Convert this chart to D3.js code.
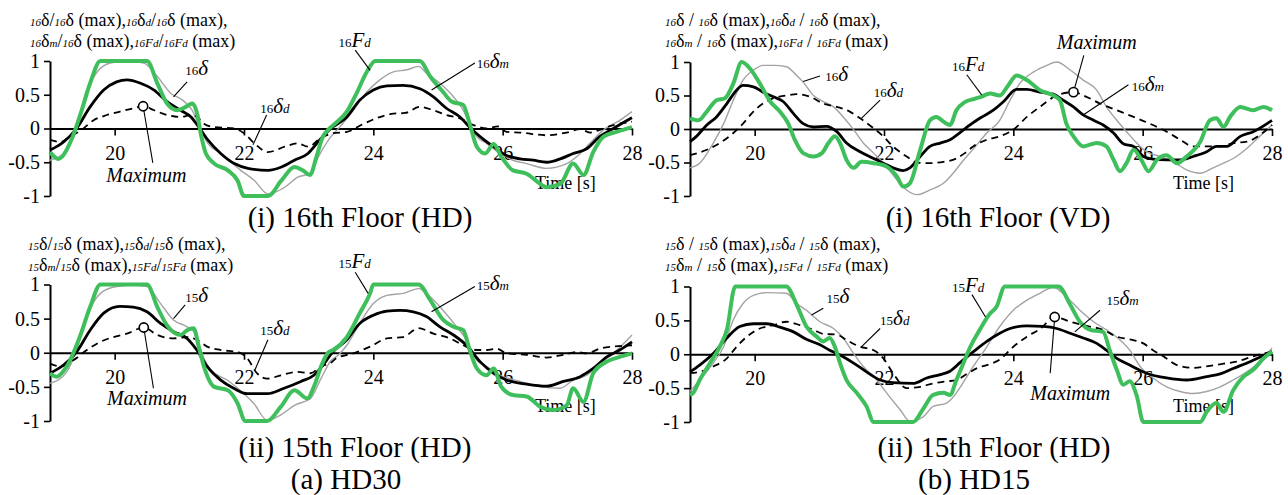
<!DOCTYPE html>
<html><head><meta charset="utf-8">
<script src="https://cdn.jsdelivr.net/npm/d3@7"></script>
<style>
body{margin:0;background:#fff}
svg{display:block}
text{font-family:"Liberation Serif","Times New Roman",serif;fill:#000}
</style>
</head><body>
<svg id="c" width="1288" height="495"></svg>
<script>
// ---------- ticks ----------
const timeDomain = [19, 28];
const timeTicks = [20, 22, 24, 26, 28];
const valueTicks = [-1, -0.5, 0, 0.5, 1];

// ---------- (a) HD30, 16th floor (HD) : [time s, normalized value] ----------
const TL_Fd = [[19,-0.35],[19.13,-0.45],[19.33,-0.17],[19.49,0.27],[19.62,0.67],[19.78,1],[20.5,1],[20.66,0.67],[20.81,0.37],[20.97,0.27],[21.1,0.32],[21.2,0.37],[21.28,0.2],[21.33,-0.07],[21.41,-0.37],[21.54,-0.52],[21.75,-0.62],[21.9,-0.77],[22.0,-1],[22.37,-1],[22.58,-0.77],[22.78,-0.57],[22.91,-0.62],[23.02,-0.69],[23.12,-0.42],[23.22,-0.12],[23.3,-0.02],[23.38,0.05],[23.59,0.25],[23.74,0.52],[23.9,0.84],[24.03,1],[24.72,1],[24.88,0.77],[25.08,0.54],[25.21,0.4],[25.39,0.35],[25.49,0.07],[25.6,-0.27],[25.73,-0.37],[25.86,-0.23],[25.98,-0.42],[26.16,-0.62],[26.37,-0.67],[26.58,-0.82],[26.68,-0.87],[26.89,-0.82],[27.09,-0.52],[27.25,-0.69],[27.4,-0.35],[27.56,-0.12],[27.76,-0.05],[28,0.02]];
const TL_d = [[19,-0.47],[19.26,-0.32],[19.41,0.02],[19.57,0.57],[19.73,0.84],[19.93,0.97],[20.19,1],[20.45,0.97],[20.66,0.77],[20.87,0.52],[21.05,0.42],[21.2,0.27],[21.33,-0.02],[21.44,-0.22],[21.64,-0.37],[21.95,-0.62],[22.16,-0.77],[22.37,-0.97],[22.63,-0.87],[22.83,-0.72],[23.02,-0.67],[23.15,-0.42],[23.33,-0.14],[23.48,0.02],[23.69,0.27],[23.9,0.54],[24.1,0.72],[24.31,0.84],[24.52,0.87],[24.7,0.92],[24.82,0.82],[25.03,0.67],[25.24,0.47],[25.39,0.27],[25.49,0.07],[25.6,-0.12],[25.75,-0.22],[25.96,-0.37],[26.16,-0.47],[26.37,-0.52],[26.68,-0.59],[26.99,-0.52],[27.2,-0.37],[27.35,-0.22],[27.56,-0.02],[27.81,0.12],[28,0.25]];
const TL_m = [[19,-0.32],[19.21,-0.2],[19.41,0],[19.62,0.32],[19.83,0.57],[20.03,0.69],[20.19,0.72],[20.4,0.67],[20.61,0.57],[20.81,0.4],[21.02,0.27],[21.18,0.17],[21.28,0.05],[21.44,-0.17],[21.64,-0.37],[21.85,-0.52],[22.06,-0.59],[22.37,-0.62],[22.58,-0.57],[22.78,-0.47],[22.99,-0.37],[23.17,-0.17],[23.33,-0.01],[23.59,0.17],[23.79,0.42],[24,0.57],[24.21,0.63],[24.46,0.64],[24.72,0.59],[24.93,0.47],[25.13,0.3],[25.34,0.17],[25.49,0.02],[25.65,-0.12],[25.86,-0.27],[26.06,-0.4],[26.27,-0.45],[26.47,-0.47],[26.68,-0.5],[26.89,-0.45],[27.09,-0.37],[27.3,-0.3],[27.5,-0.12],[27.71,0],[28,0.16]];
const TL_dd = [[19,-0.17],[19.16,-0.2],[19.31,-0.12],[19.49,-0.02],[19.67,0.12],[19.88,0.2],[20.08,0.25],[20.29,0.3],[20.44,0.33],[20.61,0.27],[20.81,0.2],[21.02,0.17],[21.18,0.2],[21.28,0.17],[21.38,0.07],[21.54,0.02],[21.85,0],[22,-0.07],[22.16,-0.22],[22.37,-0.35],[22.63,-0.27],[22.83,-0.22],[22.99,-0.27],[23.2,-0.13],[23.38,-0.07],[23.59,-0.05],[23.85,0.07],[24.1,0.17],[24.31,0.22],[24.49,0.23],[24.72,0.32],[24.93,0.27],[25.13,0.2],[25.34,0.15],[25.55,0.05],[25.75,0],[25.93,0.03],[26.06,-0.05],[26.27,-0.06],[26.68,-0.1],[26.99,-0.06],[27.2,-0.01],[27.35,-0.06],[27.5,-0.02],[27.71,0.05],[28,0.1]];
const TL_max = [20.44, 0.33];

// ---------- (b) HD15, 16th floor (VD) ----------
const TR_Fd = [[19,0.16],[19.13,0.13],[19.26,0.26],[19.41,0.43],[19.54,0.46],[19.67,0.68],[19.8,1],[19.93,0.9],[20.08,0.68],[20.24,0.41],[20.39,0.26],[20.52,0.08],[20.62,-0.16],[20.75,-0.36],[20.91,-0.41],[21.04,-0.36],[21.14,-0.21],[21.24,-0.11],[21.32,-0.21],[21.42,-0.46],[21.53,-0.58],[21.65,-0.49],[21.84,-0.51],[22.04,-0.56],[22.2,-0.71],[22.3,-0.86],[22.4,-0.81],[22.56,-0.31],[22.71,0.13],[22.81,0.18],[22.92,0.11],[23.02,0.06],[23.12,0.28],[23.25,0.4],[23.4,0.45],[23.5,0.48],[23.64,0.53],[23.79,0.5],[23.92,0.65],[24.05,0.8],[24.21,0.73],[24.41,0.58],[24.62,0.5],[24.72,0.43],[24.82,0.08],[24.93,-0.11],[25.08,-0.26],[25.29,-0.21],[25.44,-0.26],[25.55,-0.46],[25.65,-0.63],[25.75,-0.51],[25.86,-0.31],[25.98,-0.46],[26.09,-0.63],[26.22,-0.46],[26.37,-0.39],[26.53,-0.51],[26.68,-0.41],[26.89,-0.19],[27.04,0.13],[27.14,0.16],[27.25,0.03],[27.35,0.18],[27.51,0.33],[27.71,0.28],[27.87,0.33],[28,0.28]];
const TR_d = [[19,-0.58],[19.15,-0.51],[19.36,-0.21],[19.52,0.08],[19.67,0.43],[19.82,0.73],[19.98,0.88],[20.13,0.95],[20.29,0.95],[20.49,0.93],[20.65,0.8],[20.75,0.7],[20.91,0.5],[21.06,0.41],[21.22,0.33],[21.37,0.18],[21.53,-0.01],[21.68,-0.21],[21.84,-0.36],[22.04,-0.56],[22.2,-0.76],[22.35,-0.91],[22.51,-0.98],[22.71,-0.91],[22.92,-0.81],[23.07,-0.66],[23.2,-0.5],[23.38,-0.3],[23.59,-0.06],[23.79,0.13],[23.95,0.43],[24.1,0.68],[24.31,0.85],[24.52,0.95],[24.67,1],[24.88,0.88],[25.08,0.73],[25.29,0.58],[25.44,0.33],[25.6,0.13],[25.75,-0.04],[25.91,-0.21],[26.06,-0.34],[26.27,-0.41],[26.47,-0.49],[26.68,-0.61],[26.89,-0.66],[27.09,-0.58],[27.25,-0.51],[27.4,-0.44],[27.61,-0.29],[27.81,-0.11],[28,0.06]];
const TR_m = [[19,-0.19],[19.1,-0.11],[19.26,0.06],[19.41,0.18],[19.57,0.38],[19.72,0.58],[19.82,0.65],[19.98,0.63],[20.13,0.55],[20.29,0.48],[20.44,0.41],[20.6,0.23],[20.75,0.08],[20.91,0.03],[21.11,0.04],[21.27,-0.04],[21.42,-0.21],[21.63,-0.34],[21.84,-0.44],[21.99,-0.51],[22.14,-0.58],[22.3,-0.62],[22.4,-0.58],[22.56,-0.41],[22.71,-0.26],[22.87,-0.21],[23.02,-0.16],[23.18,-0.05],[23.33,0.06],[23.48,0.16],[23.69,0.28],[23.85,0.41],[24.05,0.59],[24.21,0.59],[24.41,0.55],[24.62,0.52],[24.77,0.43],[24.93,0.33],[25.08,0.21],[25.24,0.13],[25.39,0.06],[25.55,-0.06],[25.7,-0.22],[25.86,-0.26],[26.01,-0.41],[26.16,-0.45],[26.37,-0.46],[26.58,-0.46],[26.78,-0.41],[26.99,-0.34],[27.14,-0.26],[27.3,-0.26],[27.51,-0.11],[27.71,-0.04],[28,0.13]];
const TR_dd = [[19,-0.39],[19.26,-0.31],[19.46,-0.21],[19.67,-0.06],[19.82,0.08],[19.98,0.26],[20.13,0.38],[20.29,0.46],[20.49,0.5],[20.65,0.52],[20.86,0.48],[21.06,0.38],[21.27,0.33],[21.47,0.26],[21.63,0.16],[21.84,0.01],[21.99,-0.11],[22.14,-0.26],[22.35,-0.41],[22.51,-0.5],[22.71,-0.51],[22.92,-0.49],[23.12,-0.44],[23.25,-0.36],[23.38,-0.26],[23.59,-0.16],[23.79,-0.11],[24,-0.01],[24.21,0.18],[24.41,0.33],[24.67,0.5],[24.93,0.55],[25.13,0.48],[25.34,0.38],[25.6,0.28],[25.86,0.18],[26.11,0.08],[26.37,-0.04],[26.58,-0.16],[26.78,-0.26],[26.99,-0.26],[27.2,-0.26],[27.4,-0.21],[27.61,-0.19],[27.81,-0.09],[28,0.06]];
const TR_max = [24.93, 0.55];

// ---------- (a) HD30, 15th floor (HD) ----------
const BL_Fd = [[19,-0.3],[19.1,-0.35],[19.26,-0.2],[19.46,0.23],[19.62,0.67],[19.78,1],[20.5,1],[20.66,0.67],[20.81,0.4],[21.02,0.26],[21.12,0.33],[21.22,0.36],[21.3,0.09],[21.38,-0.2],[21.54,-0.5],[21.75,-0.55],[21.9,-0.74],[22.02,-1],[22.36,-1],[22.57,-0.79],[22.78,-0.55],[22.98,-0.67],[23.08,-0.5],[23.2,-0.18],[23.3,0],[23.38,0.04],[23.59,0.23],[23.79,0.58],[23.95,0.87],[24.0,1],[24.7,1],[24.88,0.77],[25.08,0.48],[25.24,0.38],[25.39,0.33],[25.49,0.04],[25.6,-0.23],[25.75,-0.33],[25.86,-0.23],[25.98,-0.5],[26.16,-0.62],[26.37,-0.64],[26.58,-0.79],[26.78,-0.84],[26.99,-0.77],[27.09,-0.52],[27.25,-0.72],[27.4,-0.3],[27.61,-0.13],[27.81,-0.06],[28,-0.01]];
const BL_d = [[19,-0.45],[19.26,-0.28],[19.41,0.04],[19.57,0.53],[19.78,0.87],[20.03,0.97],[20.29,0.99],[20.5,0.97],[20.71,0.72],[20.91,0.48],[21.12,0.38],[21.25,0.28],[21.33,0.04],[21.48,-0.25],[21.74,-0.4],[22,-0.6],[22.15,-0.74],[22.36,-0.99],[22.57,-0.91],[22.78,-0.77],[23.03,-0.67],[23.19,-0.38],[23.34,-0.12],[23.45,-0.04],[23.59,0.11],[23.79,0.43],[24,0.72],[24.21,0.84],[24.46,0.87],[24.7,0.94],[24.88,0.82],[25.08,0.62],[25.29,0.38],[25.44,0.19],[25.6,-0.11],[25.75,-0.2],[25.96,-0.33],[26.27,-0.42],[26.58,-0.5],[26.89,-0.52],[27.09,-0.4],[27.3,-0.33],[27.5,-0.16],[27.71,-0.01],[28,0.26]];
const BL_m = [[19,-0.3],[19.21,-0.18],[19.41,0.01],[19.62,0.33],[19.83,0.58],[20.08,0.68],[20.29,0.67],[20.5,0.6],[20.71,0.43],[20.91,0.31],[21.12,0.21],[21.27,0.04],[21.43,-0.2],[21.64,-0.4],[21.84,-0.52],[22.05,-0.6],[22.36,-0.6],[22.62,-0.52],[22.88,-0.42],[23.08,-0.33],[23.24,-0.16],[23.36,0],[23.59,0.19],[23.79,0.43],[24,0.55],[24.21,0.61],[24.41,0.62],[24.62,0.6],[24.82,0.53],[25.03,0.38],[25.24,0.26],[25.44,0.11],[25.65,-0.13],[25.86,-0.3],[26.06,-0.4],[26.37,-0.46],[26.68,-0.49],[26.94,-0.42],[27.2,-0.35],[27.4,-0.23],[27.61,-0.06],[27.81,0.04],[28,0.16]];
const BL_dd = [[19,-0.16],[19.16,-0.2],[19.36,-0.11],[19.57,0.04],[19.78,0.16],[19.98,0.23],[20.19,0.28],[20.45,0.37],[20.66,0.26],[20.91,0.21],[21.12,0.23],[21.27,0.19],[21.43,0.09],[21.64,0.04],[21.9,0.01],[22.05,-0.08],[22.2,-0.3],[22.36,-0.38],[22.57,-0.33],[22.83,-0.28],[23.03,-0.3],[23.19,-0.2],[23.34,-0.15],[23.43,-0.08],[23.69,-0.01],[23.95,0.09],[24.21,0.21],[24.46,0.23],[24.7,0.36],[24.93,0.28],[25.19,0.21],[25.39,0.11],[25.6,0.04],[25.75,0.04],[25.91,0.06],[26.06,-0.01],[26.37,-0.03],[26.68,-0.07],[26.94,-0.03],[27.14,0.01],[27.3,-0.01],[27.5,0.06],[27.71,0.09],[28,0.11]];
const BL_max = [20.45, 0.37];

// ---------- (b) HD15, 15th floor (HD) ----------
const BR_Fd = [[19,-0.6],[19.05,-0.57],[19.15,-0.38],[19.31,-0.13],[19.46,0.11],[19.57,0.36],[19.7,1],[20.49,1],[20.65,0.73],[20.8,0.41],[20.96,0.26],[21.06,0.19],[21.16,0.24],[21.24,0.11],[21.32,-0.13],[21.42,-0.38],[21.58,-0.57],[21.73,-0.77],[21.84,-1],[22.45,-1],[22.61,-0.8],[22.76,-0.6],[22.92,-0.57],[23.02,-0.6],[23.12,-0.38],[23.22,-0.15],[23.33,0.1],[23.48,0.36],[23.64,0.6],[23.74,0.7],[23.87,1],[24.7,1],[24.88,0.73],[25.03,0.48],[25.19,0.36],[25.39,0.33],[25.49,0.06],[25.6,-0.23],[25.7,-0.45],[25.8,-0.4],[25.91,-0.62],[26.01,-1],[26.89,-1],[26.99,-0.85],[27.14,-0.72],[27.25,-0.85],[27.4,-0.53],[27.56,-0.33],[27.71,-0.23],[27.87,-0.06],[28,0.04]];
const BR_d = [[19,-0.55],[19.15,-0.38],[19.36,-0.13],[19.52,0.11],[19.67,0.51],[19.82,0.75],[19.98,0.87],[20.19,0.91],[20.49,0.9],[20.65,0.75],[20.8,0.65],[21.01,0.48],[21.22,0.38],[21.37,0.24],[21.53,0.01],[21.68,-0.18],[21.89,-0.38],[22.04,-0.57],[22.25,-0.82],[22.4,-0.99],[22.61,-0.92],[22.76,-0.77],[22.97,-0.72],[23.12,-0.57],[23.25,-0.38],[23.38,-0.18],[23.59,0.11],[23.79,0.41],[24,0.65],[24.21,0.8],[24.41,0.9],[24.62,0.99],[24.82,0.85],[25.03,0.65],[25.24,0.48],[25.44,0.36],[25.65,0.21],[25.8,0.06],[25.96,-0.18],[26.16,-0.35],[26.37,-0.48],[26.58,-0.55],[26.78,-0.58],[26.99,-0.55],[27.2,-0.48],[27.4,-0.38],[27.61,-0.26],[27.81,-0.11],[28,0.09]];
const BR_m = [[19,-0.26],[19.15,-0.16],[19.36,0.01],[19.57,0.24],[19.77,0.41],[19.98,0.45],[20.19,0.45],[20.39,0.4],[20.6,0.33],[20.8,0.22],[21.01,0.14],[21.16,0.06],[21.32,-0.01],[21.53,-0.13],[21.73,-0.26],[21.94,-0.38],[22.14,-0.42],[22.45,-0.43],[22.66,-0.35],[22.87,-0.3],[23.02,-0.25],[23.18,-0.12],[23.36,0.02],[23.59,0.19],[23.79,0.31],[23.95,0.38],[24.21,0.42],[24.46,0.41],[24.67,0.38],[24.88,0.31],[25.08,0.24],[25.29,0.16],[25.44,0.06],[25.6,-0.06],[25.8,-0.16],[26.06,-0.28],[26.37,-0.35],[26.68,-0.38],[26.99,-0.33],[27.2,-0.29],[27.4,-0.21],[27.66,-0.11],[28,0.04]];
const BR_dd = [[19,-0.28],[19.15,-0.26],[19.36,-0.18],[19.57,-0.06],[19.72,0.11],[19.88,0.26],[20.08,0.38],[20.29,0.43],[20.49,0.48],[20.7,0.43],[20.91,0.36],[21.06,0.3],[21.27,0.29],[21.42,0.21],[21.63,0.11],[21.84,0.06],[21.99,-0.06],[22.14,-0.28],[22.35,-0.5],[22.56,-0.48],[22.76,-0.43],[22.97,-0.4],[23.12,-0.38],[23.3,-0.28],[23.45,-0.2],[23.59,-0.16],[23.79,-0.08],[24,0.11],[24.21,0.26],[24.41,0.37],[24.64,0.55],[24.88,0.48],[25.13,0.42],[25.39,0.36],[25.6,0.26],[25.8,0.22],[26.01,0.16],[26.16,0.06],[26.32,-0.03],[26.53,-0.16],[26.78,-0.2],[27.04,-0.17],[27.25,-0.14],[27.45,-0.11],[27.71,-0.03],[28,0.04]];
const BR_max = [24.64, 0.55];

// ---------- texts ----------
const panelTitles = ["(i) 16th Floor (HD)", "(i) 16th Floor (VD)", "(ii) 15th Floor (HD)", "(ii) 15th Floor (HD)"];
const floorTags = ["16", "16", "15", "15"];
const groupTitles = ["(a) HD30", "(b) HD15"];
const timeLabel = "Time [s]";

// ---------- layout (pixels) ----------
const layout = [
  {xr:[50,632],  yr:[196,61],    hx:30,  hy:26,  tx:360,  ty:227, sp:false},
  {xr:[690,1272],yr:[196,62],    hx:665, hy:26,  tx:998,  ty:227, sp:true},
  {xr:[50,632],  yr:[421,284.5], hx:28,  hy:250, tx:355,  ty:457, sp:false},
  {xr:[690,1272],yr:[422,286.5], hx:665, hy:250, tx:994,  ty:457, sp:true}
];
// annotation anchors in data coords [t, v]
const annots = [
  {d:[21.09,0.79], dL:[[20.91,0.47],[21.12,0.69]], dd:[22.25,0.23], ddL:[[22.14,-0.24],[22.35,0.2]],
   F:[23.46,1.21], FL:[[23.72,1.16],[23.95,0.86]], m:[25.6,0.89], mL:[[24.9,0.57],[25.57,0.97]],
   mx:[20.49,-0.79], mxL:[20.59,-0.51], time:[26.5,-0.89]},
  {d:[21.09,0.71], dL:[[20.75,0.71],[21.01,0.79]], dd:[21.84,0.48], ddL:[[21.65,0.16],[21.94,0.43]],
   F:[23.05,0.86], FL:[[23.28,0.81],[23.51,0.51]], m:[25.83,0.56], mL:[[25.08,0.21],[25.78,0.66]],
   mx:[25.29,1.2], mxL:[25.09,1.1], time:[26.47,-0.89]},
  {d:[21.09,0.75], dL:[[20.91,0.5],[21.09,0.7]], dd:[22.25,0.26], ddL:[[22.17,-0.25],[22.37,0.19]],
   F:[23.46,1.24], FL:[[23.72,1.18],[23.92,0.87]], m:[25.6,0.92], mL:[[24.9,0.6],[25.57,0.97]],
   mx:[20.5,-0.76], mxL:[20.6,-0.52], time:[26.5,-0.87]},
  {d:[21.11,0.75], dL:[[20.88,0.58],[21.06,0.68]], dd:[21.94,0.43], ddL:[[21.65,0.11],[21.94,0.38]],
   F:[23.05,0.92], FL:[[23.36,0.88],[23.57,0.55]], m:[25.44,0.73], mL:[[24.95,0.33],[25.34,0.65]],
   mx:[24.88,-0.67], mxL:[24.57,-0.28], time:[26.47,-0.85]}
];

const series = [
  {Fd:TL_Fd, d:TL_d, m:TL_m, dd:TL_dd, max:TL_max},
  {Fd:TR_Fd, d:TR_d, m:TR_m, dd:TR_dd, max:TR_max},
  {Fd:BL_Fd, d:BL_d, m:BL_m, dd:BL_dd, max:BL_max},
  {Fd:BR_Fd, d:BR_d, m:BR_m, dd:BR_dd, max:BR_max}
];

const GREEN = "#3fbf5c";
const svg = d3.select("#c");

function rich(g, x, y, parts, anchor) {
  const t = g.append("text").attr("x", x).attr("y", y).attr("text-anchor", anchor || "start");
  parts.forEach(p => t.append("tspan").attr("font-size", p[1])
    .attr("font-style", p[2] ? "italic" : "normal").text(p[0]));
  return t;
}

function drawPanel(i) {
  const L = layout[i], S = series[i], A = annots[i], f = floorTags[i];
  const x = d3.scaleLinear().domain(timeDomain).range(L.xr);
  const y = d3.scaleLinear().domain([-1, 1]).range(L.yr);
  const g = svg.append("g");
  const P = (p) => [x(p[0]), y(p[1])];

  // header (y-axis label), two lines
  const sl = L.sp ? " / " : "/";
  rich(g, L.hx, L.hy, [[f,11,1],["δ",18],[sl,18],[f,11,1],["δ (max),",18],[f,11,1],["δ",18],["d",11,1],[sl,18],[f,11,1],["δ (max),",18]]);
  rich(g, L.hx, L.hy + 21, [[f,11,1],["δ",18],["m",11,1],[sl,18],[f,11,1],["δ (max),",18],[f,11,1],["F",13,1],["d",11,1],[sl,18],[f,11,1],["F",13,1],["d",11,1],[" (max)",18]]);

  // axes
  const ya = d3.axisLeft(y).tickValues(valueTicks).tickSize(6).tickSizeOuter(0).tickPadding(4).tickFormat(d => String(d));
  const yg = g.append("g").attr("transform", `translate(${L.xr[0]},0)`).call(ya);
  const xa = d3.axisBottom(x).tickValues(timeTicks).tickSize(7).tickSizeOuter(0).tickPadding(10).tickFormat(d => String(d));
  const xg = g.append("g").attr("transform", `translate(0,${y(0)})`).call(xa);
  [yg, xg].forEach(a => {
    a.attr("font-family", null).attr("font-size", null);
    a.select(".domain").attr("stroke", "#000").attr("stroke-width", 2);
    a.selectAll(".tick line").attr("stroke", "#000").attr("stroke-width", 1.6);
    a.selectAll(".tick text").attr("font-size", 20).attr("fill", "#000");
  });

  // curve labels
  rich(g, ...P(A.d), [[f,13],["δ",21,1]]);
  rich(g, ...P(A.dd), [[f,13],["δ",21,1],["d",13,1]]);
  rich(g, ...P(A.F), [[f,13],["F",21,1],["d",13,1]]);
  rich(g, ...P(A.m), [[f,13],["δ",21,1],["m",13,1]]);
  rich(g, ...P(A.mx), [["Maximum",20,1]], "middle");
  rich(g, ...P(A.time), [[timeLabel,18]]);

  // series
  const line = d3.line().x(d => x(d[0])).y(d => y(d[1])).curve(d3.curveMonotoneX);
  g.append("path").attr("d", line(S.d)).attr("fill", "none").attr("stroke", "#a3a3a3").attr("stroke-width", 1.4);
  g.append("path").attr("d", line(S.dd)).attr("fill", "none").attr("stroke", "#000").attr("stroke-width", 1.8).attr("stroke-dasharray", "7,5");
  g.append("path").attr("d", line(S.m)).attr("fill", "none").attr("stroke", "#000").attr("stroke-width", 2.8);
  g.append("path").attr("d", line(S.Fd)).attr("fill", "none").attr("stroke", GREEN).attr("stroke-width", 4).attr("stroke-linejoin", "round");

  // leader lines
  const lead = (a, b) => g.append("line").attr("x1", x(a[0])).attr("y1", y(a[1])).attr("x2", x(b[0])).attr("y2", y(b[1]))
    .attr("stroke", "#000").attr("stroke-width", 1.1);
  lead(A.dL[0], A.dL[1]); lead(A.ddL[0], A.ddL[1]); lead(A.FL[0], A.FL[1]); lead(A.mL[0], A.mL[1]);
  lead(A.mxL, S.max);
  g.append("circle").attr("cx", x(S.max[0])).attr("cy", y(S.max[1])).attr("r", 4.6)
    .attr("fill", "#fff").attr("stroke", "#000").attr("stroke-width", 1.6);

  // panel title
  g.append("text").attr("x", L.tx).attr("y", L.ty).attr("text-anchor", "middle").attr("font-size", 29).text(panelTitles[i]);
}

[0, 1, 2, 3].forEach(drawPanel);
svg.append("text").attr("x", 346).attr("y", 489).attr("text-anchor", "middle").attr("font-size", 29).text(groupTitles[0]);
svg.append("text").attr("x", 974).attr("y", 489).attr("text-anchor", "middle").attr("font-size", 29).text(groupTitles[1]);
</script>
</body></html>
